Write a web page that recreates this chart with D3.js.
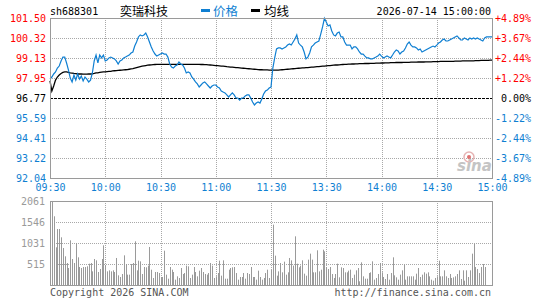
<!DOCTYPE html>
<html><head><meta charset="utf-8">
<script src="https://cdn.jsdelivr.net/npm/d3@7"></script>
<style>
body{margin:0;background:#fff;}
svg{display:block;}
</style>
</head><body><svg id="c" width="545" height="300"></svg>
<script>
const code = "sh688301";
const stockName = "奕瑞科技";
const legendNames = ["价格", "均线"];
const dateTime = "2026-07-14 15:00:00";
const prevClose = 96.77;
const priceTicks = [101.50, 100.32, 99.13, 97.95, 96.77, 95.59, 94.41, 93.22, 92.04];
const pctLabels = ["+4.89%", "+3.67%", "+2.44%", "+1.22%", "0.00%", "-1.22%", "-2.44%", "-3.67%", "-4.89%"];
const timeIdx = [0, 30, 60, 90, 120, 150, 180, 210, 240];
const timeLabels = ["09:30", "10:00", "10:30", "11:00", "11:30", "13:30", "14:00", "14:30", "15:00"];
const volTicks = [2061, 1546, 1031, 515];
const volMax = 2061;

const prices = [
97.89, 98.01, 98.19, 98.31, 98.54, 98.66, 98.96, 99.19, 99.19, 98.84,
98.43, 97.95, 97.72, 98.13, 97.83, 98.19, 97.89, 98.07, 97.78, 98.01,
97.89, 97.72, 97.83, 98.25, 98.96, 99.31, 98.84, 99.31, 99.14, 99.31,
98.96, 99.02, 99.14, 99.19, 99.14, 99.08, 98.96, 98.78, 98.96, 99.02,
99.14, 99.19, 99.25, 99.31, 99.43, 99.49, 99.84, 100.08, 100.38, 100.50,
100.44, 100.50, 100.61, 100.38, 100.08, 99.79, 99.55, 99.37, 99.25, 99.31,
99.37, 99.43, 99.37, 99.37, 99.19, 98.78, 98.60, 98.54, 98.66, 98.72,
98.90, 98.78, 98.72, 98.54, 98.25, 98.31, 98.25, 98.01, 97.89, 97.72,
97.60, 97.42, 97.54, 97.66, 97.72, 97.60, 97.48, 97.36, 97.48, 97.54,
97.54, 97.42, 97.36, 97.18, 97.12, 97.07, 96.95, 96.83, 96.95, 97.07,
96.95, 96.77, 96.77, 96.65, 96.77, 96.77, 96.89, 96.95, 96.95, 96.77,
96.53, 96.36, 96.47, 96.53, 96.47, 96.71, 97.01, 97.18, 97.24, 97.36,
97.42,
98.54, 99.14, 99.67, 99.73, 99.73, 99.67, 99.73, 99.79, 99.90,
99.96, 99.90, 100.08, 100.26, 100.50, 100.02, 99.90, 99.79, 99.49, 99.08,
99.19, 99.43, 99.79, 99.90, 100.02, 100.08, 100.14, 100.55, 100.97, 101.48,
101.26, 101.03, 101.09, 100.73, 100.50, 100.44, 100.61, 100.67, 100.38, 100.38,
100.08, 99.90, 99.90, 99.90, 99.67, 99.79, 99.79, 99.67, 99.49, 99.37,
99.37, 99.25, 99.14, 99.14, 99.08, 99.08, 99.14, 99.19, 99.25, 99.37,
99.25, 99.14, 99.19, 99.25, 99.19, 99.14, 99.31, 99.49, 99.61, 99.55,
99.37, 99.49, 99.55, 99.73, 99.96, 100.08, 99.90, 99.79, 99.79, 99.73,
99.61, 99.67, 99.49, 99.55, 99.61, 99.67, 99.73, 99.79, 99.84, 99.79,
99.90, 100.02, 100.08, 100.20, 100.26, 100.14, 100.14, 100.20, 100.26, 100.32,
100.38, 100.44, 100.32, 100.20, 100.20, 100.32, 100.26, 100.20, 100.32, 100.26,
100.32, 100.26, 100.32, 100.26, 100.20, 100.14, 100.32, 100.38, 100.38, 100.38,
100.38
];

const avgPrices = [
97.78, 97.18, 97.48, 97.83, 98.01, 98.13, 98.22, 98.28, 98.31, 98.31,
98.29, 98.26, 98.24, 98.22, 98.21, 98.19, 98.19, 98.19, 98.18, 98.18,
98.18, 98.19, 98.19, 98.20, 98.22, 98.25, 98.26, 98.28, 98.30, 98.31,
98.32, 98.33, 98.34, 98.35, 98.37, 98.38, 98.39, 98.40, 98.41, 98.42,
98.43, 98.44, 98.45, 98.47, 98.49, 98.51, 98.54, 98.57, 98.60, 98.63,
98.65, 98.67, 98.69, 98.71, 98.72, 98.73, 98.74, 98.75, 98.76, 98.76,
98.76, 98.76, 98.76, 98.76, 98.76, 98.76, 98.76, 98.76, 98.76, 98.76,
98.76, 98.76, 98.76, 98.76, 98.76, 98.76, 98.76, 98.76, 98.76, 98.76,
98.76,
98.76, 98.75, 98.75, 98.74, 98.74, 98.73, 98.72, 98.71, 98.70, 98.69,
98.68, 98.67, 98.66, 98.65, 98.64, 98.62, 98.61, 98.60, 98.59, 98.58,
98.57, 98.56, 98.55, 98.54, 98.53, 98.52, 98.51, 98.50, 98.49, 98.48,
98.47, 98.46, 98.45, 98.44, 98.44, 98.43, 98.43, 98.43, 98.42, 98.42,
98.42, 98.42, 98.42, 98.42, 98.43, 98.44, 98.45, 98.46, 98.47, 98.48,
98.49, 98.50, 98.51, 98.52, 98.53, 98.54, 98.55, 98.55, 98.56, 98.57,
98.58, 98.59, 98.60, 98.61, 98.62, 98.63, 98.64, 98.65, 98.66, 98.67,
98.68, 98.69, 98.70, 98.71, 98.72, 98.72, 98.73, 98.74, 98.75, 98.76,
98.76, 98.77, 98.77, 98.78, 98.78, 98.79, 98.79, 98.80, 98.80, 98.80,
98.81, 98.81, 98.81, 98.82, 98.82, 98.82, 98.83, 98.83, 98.83, 98.84,
98.84, 98.85, 98.85, 98.85, 98.86, 98.86, 98.86, 98.87, 98.87, 98.87,
98.87, 98.88, 98.88, 98.88, 98.88, 98.89, 98.89, 98.89, 98.89, 98.90,
98.90, 98.90, 98.90, 98.91, 98.91, 98.91, 98.91, 98.92, 98.92, 98.92,
98.92, 98.93, 98.93, 98.93, 98.93, 98.94, 98.94, 98.94, 98.94, 98.95,
98.95, 98.95, 98.95, 98.96, 98.96, 98.96, 98.96, 98.97, 98.97, 98.97,
98.98, 98.98, 98.98, 98.99, 98.99, 98.99, 99.00, 99.00, 99.01, 99.01
];

const volumes = [
270, 2061, 1686, 925, 1374, 1374, 1170, 908, 704, 540,
417, 1096, 638, 540, 1031, 679, 442, 417, 442, 442,
458, 524, 540, 335, 638, 605, 319, 393, 638, 974,
483, 335, 360, 335, 360, 319, 663, 237, 196, 270,
728, 515, 254, 254, 515, 540, 1072, 360, 597, 580,
270, 442, 434, 475, 933, 376, 172, 319, 319, 294,
196, 196, 842, 254, 155, 442, 376, 319, 131, 213,
172, 417, 270, 294, 475, 458, 172, 254, 442, 319,
213, 352, 417, 319, 270, 254, 294, 540, 475, 172,
213, 294, 597, 229, 605, 155, 155, 376, 417, 434,
442, 294, 131, 196, 196, 294, 155, 294, 270, 442,
196, 196, 131, 352, 196, 131, 172, 294, 376, 172,
376,
1481, 720, 229, 335, 540, 311, 573, 254, 311, 663,
605, 475, 1194, 524, 434, 475, 605, 278, 229, 622,
769, 622, 311, 311, 851, 335, 376, 867, 826, 442,
393, 442, 270, 172, 270, 524, 188, 434, 417, 311,
311, 352, 376, 172, 254, 360, 417, 90, 556, 213,
155, 155, 294, 311, 581, 131, 172, 270, 540, 311,
196, 147, 270, 131, 294, 679, 237, 188, 131, 254,
360, 499, 131, 213, 213, 213, 213, 131, 278, 417,
196, 254, 311, 278, 311, 213, 131, 106, 172, 213,
597, 213, 213, 360, 213, 172, 270, 172, 188, 213,
270, 360, 147, 360, 106, 360, 196, 360, 769, 1014,
442, 393, 294, 442, 515, 442,
0, 0, 0, 0
];

const RED = "#ff0000", BLUE = "#0f7fd2", GRAY = "#9a9a9a", GRID = "#a8a8a8";
const MONO = "'DejaVu Sans Mono', 'Liberation Mono', monospace";
const CJK = "'Noto Sans CJK SC', sans-serif";

const svg = d3.select("#c");
const L = 50, R = 492, T = 18, B = 178, VT = 201, VB = 285;
const x = d3.scaleLinear().domain([0, 240]).range([L, R]);
const y = d3.scaleLinear().domain([priceTicks[priceTicks.length - 1], priceTicks[0]]).range([B, T]);
const yv = d3.scaleLinear().domain([0, volMax]).range([VB, VT]);
const snap = v => Math.round(v) + 0.5;

// ---- price panel grid ----
const gGrid = svg.append("g");
priceTicks.slice(1, -1).forEach(p => {
  const isPrev = Math.abs(p - prevClose) < 1e-6;
  gGrid.append("line").attr("x1", L).attr("x2", R).attr("y1", snap(y(p))).attr("y2", snap(y(p)))
    .attr("stroke", isPrev ? "#000" : GRID).attr("stroke-width", 1)
    .attr("stroke-dasharray", isPrev ? "3,1" : "1,1");
});
timeIdx.slice(1, -1).forEach(t => {
  gGrid.append("line").attr("x1", snap(x(t))).attr("x2", snap(x(t))).attr("y1", T).attr("y2", B)
    .attr("stroke", GRID).attr("stroke-dasharray", "1,1");
  gGrid.append("line").attr("x1", snap(x(t))).attr("x2", snap(x(t))).attr("y1", VT).attr("y2", VB)
    .attr("stroke", GRID).attr("stroke-dasharray", "1,1");
});
volTicks.slice(1).forEach(v => {
  gGrid.append("line").attr("x1", L).attr("x2", R).attr("y1", snap(yv(v))).attr("y2", snap(yv(v)))
    .attr("stroke", GRID).attr("stroke-dasharray", "1,1");
});

// ---- sina watermark ----
const wm = svg.append("g");
wm.append("circle").attr("cx", 469).attr("cy", 157).attr("r", 5).attr("fill", "none").attr("stroke", "#e6b4b4").attr("stroke-width", 1.5);
wm.append("circle").attr("cx", 469).attr("cy", 157).attr("r", 2).attr("fill", "#e07070");
wm.append("text").attr("x", 457).attr("y", 171).text("sina")
  .attr("font-family", "'DejaVu Sans', sans-serif").attr("font-size", 15).attr("font-style", "italic")
  .attr("font-weight", "bold").attr("fill", "#c4c4c4");

// ---- volume bars ----
svg.append("g").selectAll("rect").data(volumes).join("rect")
  .attr("x", (d, i) => Math.round(x(i)))
  .attr("y", d => yv(d))
  .attr("width", 1)
  .attr("height", d => VB - yv(d))
  .attr("fill", GRAY);

// ---- lines ----
const line = d3.line().x((d, i) => x(i)).y(d => y(d));
svg.append("path").datum(avgPrices).attr("d", line).attr("fill", "none").attr("stroke", "#000").attr("stroke-width", 1.3);
svg.append("path").datum(prices).attr("d", line).attr("fill", "none").attr("stroke", BLUE).attr("stroke-width", 1.2);

// ---- borders ----
svg.append("rect").attr("x", L + 0.5).attr("y", T + 0.5).attr("width", R - L).attr("height", B - T)
  .attr("fill", "none").attr("stroke", GRAY).attr("stroke-width", 1);
svg.append("rect").attr("x", L + 0.5).attr("y", VT + 0.5).attr("width", R - L).attr("height", VB - VT)
  .attr("fill", "none").attr("stroke", GRAY).attr("stroke-width", 1);

// ---- axes ----
function styleAxis(g) {
  g.select(".domain").remove();
  g.selectAll(".tick line").remove();
  g.attr("font-family", MONO).attr("font-size", 10);
}
const colorFor = p => p > prevClose + 1e-6 ? RED : (p < prevClose - 1e-6 ? BLUE : "#000");

svg.append("g").attr("transform", `translate(${L},0)`)
  .call(d3.axisLeft(y).tickValues(priceTicks).tickFormat(d3.format(".2f")).tickSize(0).tickPadding(4))
  .call(styleAxis)
  .selectAll("text").attr("fill", d => colorFor(d)).attr("dy", "0.36em");

svg.append("g").attr("transform", `translate(${R},0)`)
  .call(d3.axisRight(y).tickValues(priceTicks).tickFormat((d, i) => pctLabels[i]).tickSize(0).tickPadding(39))
  .call(styleAxis)
  .selectAll("text").attr("text-anchor", "end").attr("fill", d => colorFor(d)).attr("dy", "0.36em");

svg.append("g").attr("transform", `translate(0,${B})`)
  .call(d3.axisBottom(x).tickValues(timeIdx).tickFormat((d, i) => timeLabels[i]).tickSize(0).tickPadding(6))
  .call(styleAxis)
  .selectAll("text").attr("fill", BLUE);

svg.append("g").attr("transform", `translate(${L - 1},0)`)
  .call(d3.axisLeft(yv).tickValues(volTicks).tickFormat(d3.format("d")).tickSize(0).tickPadding(4))
  .call(styleAxis)
  .selectAll("text").attr("fill", GRAY).attr("dy", "0.36em");

// ---- header ----
svg.append("text").attr("x", 50).attr("y", 15).text(code).attr("font-family", MONO).attr("font-size", 10).attr("fill", "#000");
svg.append("text").attr("x", 120).attr("y", 16).text(stockName).attr("font-family", CJK).attr("font-size", 12).attr("fill", "#000");
svg.append("rect").attr("x", 201).attr("y", 9).attr("width", 9).attr("height", 3).attr("fill", BLUE);
svg.append("text").attr("x", 213).attr("y", 16).text(legendNames[0]).attr("font-family", CJK).attr("font-size", 12.5).attr("fill", BLUE);
svg.append("rect").attr("x", 251).attr("y", 9).attr("width", 9).attr("height", 3).attr("fill", "#000");
svg.append("text").attr("x", 264).attr("y", 16).text(legendNames[1]).attr("font-family", CJK).attr("font-size", 12.5).attr("fill", "#000");
svg.append("text").attr("x", 491).attr("y", 15).attr("text-anchor", "end").text(dateTime).attr("font-family", MONO).attr("font-size", 10).attr("fill", "#000");

// ---- footer ----
svg.append("text").attr("x", 50).attr("y", 296).text("Copyright 2026 SINA.COM").attr("font-family", MONO).attr("font-size", 10).attr("fill", "#555");
svg.append("text").attr("x", 491).attr("y", 296).attr("text-anchor", "end").text("http://finance.sina.com.cn").attr("font-family", MONO).attr("font-size", 10).attr("fill", "#555");
</script>
</body></html>
